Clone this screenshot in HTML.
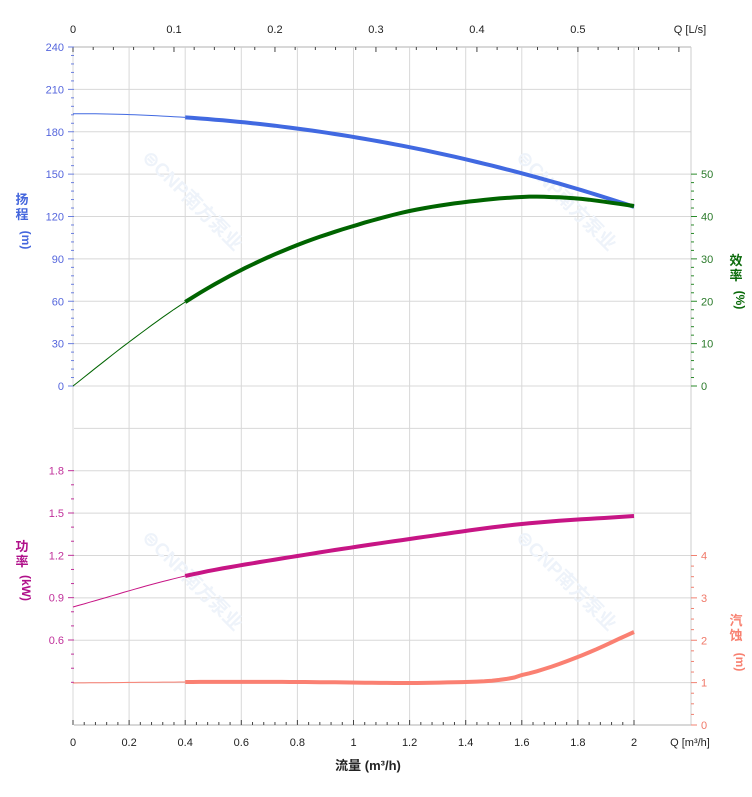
<!DOCTYPE html><html><head><meta charset="utf-8"><style>body{margin:0;background:#fff}svg{display:block;font-family:"Liberation Sans","Noto Sans CJK SC",sans-serif}</style></head><body>
<svg id="s" width="752" height="797" xmlns="http://www.w3.org/2000/svg"></svg>
<script>
const S=document.getElementById('s');let h='';
const X=q=>73+q*280.5;
const L=74,R=691,T=47,B=725;
for(let i=0;i<=16;i++){const y=T+i*(B-T)/16;h+=`<line x1="${L}" x2="${R}" y1="${y}" y2="${y}" stroke="#d8d8d8" stroke-width="1"/>`;}
for(let i=0;i<=10;i++){const x=X(i*0.2);h+=`<line x1="${x}" x2="${x}" y1="${T}" y2="${B}" stroke="#d8d8d8"/>`;}
h+=`<line x1="${R}" x2="${R}" y1="${T}" y2="${B}" stroke="#ccc"/>`;
h+=`<line x1="${L}" x2="${R}" y1="${T}" y2="${T}" stroke="#ccc" stroke-width="1.5"/><line x1="${L}" x2="${R}" y1="${B}" y2="${B}" stroke="#ccc" stroke-width="1.5"/>`;
for(let i=0;i<=50;i++){const x=X(i*0.04);if(x>R)break;h+=`<line x1="${x}" x2="${x}" y1="${B}" y2="${B-(i%5==0?5:3)}" stroke="#444"/>`;}
for(let i=0;i<=10;i++){const v=i*0.2;h+=`<text x="${X(v)}" y="746" font-size="11" text-anchor="middle" fill="#222">${+v.toFixed(1)}</text>`;}
h+=`<text x="690" y="746" font-size="11" text-anchor="middle" fill="#222">Q [m³/h]</text>`;
h+=`<text x="368" y="770" font-size="13" font-weight="bold" text-anchor="middle" fill="#222">流量 (m³/h)</text>`;
for(let i=0;i<=30;i++){const x=X(i*0.02*3.6);if(x>R)break;h+=`<line x1="${x}" x2="${x}" y1="${T}" y2="${T+(i%5==0?5:3)}" stroke="#444"/>`;}
for(let i=0;i<=5;i++){h+=`<text x="${X(i*0.36)}" y="33" font-size="11" text-anchor="middle" fill="#222">${i==0?0:(i/10)}</text>`;}
h+=`<text x="690" y="33" font-size="11" text-anchor="middle" fill="#222">Q [L/s]</text>`;
const dy=(B-T)/16;
for(let i=0;i<=40;i++){const y=386-i*dy/5;if(y<T-1)break;h+=`<line x1="${L-(i%5==0?6:3)}" x2="${L}" y1="${y}" y2="${y}" stroke="#6b7fe0"/>`;}
for(let i=0;i<=8;i++){h+=`<text x="64" y="${386-i*dy+4}" font-size="11" text-anchor="end" fill="#5566dd">${i*30}</text>`;}
h+=`<text x="22" y="204" font-size="13" font-weight="bold" text-anchor="middle" fill="#4466dd">扬</text><text x="22" y="219" font-size="13" font-weight="bold" text-anchor="middle" fill="#4466dd">程</text><text x="22" y="240" font-size="12" font-weight="bold" text-anchor="middle" fill="#4466dd" transform="rotate(90 22 240)">(m)</text>`;
for(let k=0;k<=17;k++){const y=640+42.33-k*14.11;if(y<465)break;h+=`<line x1="${L-((k%3==0&&y<=641)?6:3)}" x2="${L}" y1="${y}" y2="${y}" stroke="#c0309a"/>`;}
[0.6,0.9,1.2,1.5,1.8].forEach((v,i)=>{h+=`<text x="64" y="${640-i*dy+4}" font-size="11" text-anchor="end" fill="#c0309a">${v.toFixed(1)}</text>`;});
h+=`<text x="22" y="551" font-size="13" font-weight="bold" text-anchor="middle" fill="#b0108a">功</text><text x="22" y="566" font-size="13" font-weight="bold" text-anchor="middle" fill="#b0108a">率</text><text x="22" y="588" font-size="12" font-weight="bold" text-anchor="middle" fill="#b0108a" transform="rotate(90 22 588)">(kW)</text>`;
for(let k=0;k<=25;k++){const y=386-k*dy/5;if(y<170)break;h+=`<line x1="${R}" x2="${R+(k%5==0?6:3)}" y1="${y}" y2="${y}" stroke="#2a8a2a"/>`;}
for(let i=0;i<=5;i++)h+=`<text x="701" y="${386-i*dy+4}" font-size="11" fill="#2a7a2a">${i*10}</text>`;
h+=`<text x="736" y="265" font-size="13" font-weight="bold" text-anchor="middle" fill="#0a6a0a">效</text><text x="736" y="280" font-size="13" font-weight="bold" text-anchor="middle" fill="#0a6a0a">率</text><text x="736" y="300" font-size="12" font-weight="bold" text-anchor="middle" fill="#0a6a0a" transform="rotate(90 736 300)">(%)</text>`;
for(let k=0;k<=20;k++){const y=B-k*dy/4;if(y<552)break;h+=`<line x1="${R}" x2="${R+(k%4==0?6:3)}" y1="${y}" y2="${y}" stroke="#f08070"/>`;}
for(let i=0;i<=4;i++)h+=`<text x="701" y="${B-i*dy+4}" font-size="11" fill="#f07868">${i}</text>`;
h+=`<text x="736" y="625" font-size="13" font-weight="bold" text-anchor="middle" fill="#f88070">汽</text><text x="736" y="640" font-size="13" font-weight="bold" text-anchor="middle" fill="#f88070">蚀</text><text x="736" y="662" font-size="12" font-weight="bold" text-anchor="middle" fill="#f88070" transform="rotate(90 736 662)">(m)</text>`;
[[188,205],[562,205],[188,585],[562,585]].forEach(([x,y])=>{h+=`<text x="${x}" y="${y}" font-size="19" font-weight="bold" fill="#eef3fa" text-anchor="middle" transform="rotate(45 ${x} ${y})">⊜CNP南方泵业</text>`;});
function path(f,a,b,n){let p='';for(let i=0;i<=n;i++){const q=a+(b-a)*i/n;p+=(i?'L':'M')+X(q).toFixed(1)+','+f(q).toFixed(1);}return p;}
function smooth(pts){return q=>{let i=0;while(i<pts.length-2&&q>pts[i+1][0])i++;const p1=pts[i],p2=pts[i+1];const p0=i>0?pts[i-1]:[2*p1[0]-p2[0],2*p1[1]-p2[1]];const p3=i+2<pts.length?pts[i+2]:[2*p2[0]-p1[0],2*p2[1]-p1[1]];const t=(q-p1[0])/(p2[0]-p1[0]);const t2=t*t,t3=t2*t;return 0.5*((2*p1[1])+(-p0[1]+p2[1])*t+(2*p0[1]-5*p1[1]+4*p2[1]-p3[1])*t2+(-p0[1]+3*p1[1]-3*p2[1]+p3[1])*t3);};}
const head=q=>386-1.411*(193-16.5*q*q);
const eff=smooth([[0,386],[0.2,342],[0.4,302],[0.6,270],[0.8,245],[1.0,226],[1.2,211],[1.4,202],[1.6,197],[1.7,197],[1.8,198.5],[1.9,202],[2,206]]);
const pw=smooth([[0,607],[0.4,576],[0.8,556],[1.2,539],[1.6,524],[2,516]]);
const np=smooth([[0,683],[0.4,682],[0.8,682],[1.2,683],[1.4,682],[1.5,680.5],[1.6,675],[1.8,657],[2,632]]);
h+=`<path d="${path(head,0,0.4,20)}" stroke="#4169e1" stroke-width="1" fill="none"/><path d="${path(head,0.4,2,60)}" stroke="#4169e1" stroke-width="4" fill="none"/>`;
h+=`<path d="${path(eff,0,0.4,20)}" stroke="#006400" stroke-width="1" fill="none"/><path d="${path(eff,0.4,2,60)}" stroke="#006400" stroke-width="4" fill="none"/>`;
h+=`<path d="${path(pw,0,0.4,20)}" stroke="#c71585" stroke-width="1" fill="none"/><path d="${path(pw,0.4,2,60)}" stroke="#c71585" stroke-width="4" fill="none"/>`;
h+=`<path d="${path(np,0,0.4,20)}" stroke="#fa8072" stroke-width="1" fill="none"/><path d="${path(np,0.4,2,60)}" stroke="#fa8072" stroke-width="4" fill="none"/>`;
S.innerHTML=h;
</script></body></html>
